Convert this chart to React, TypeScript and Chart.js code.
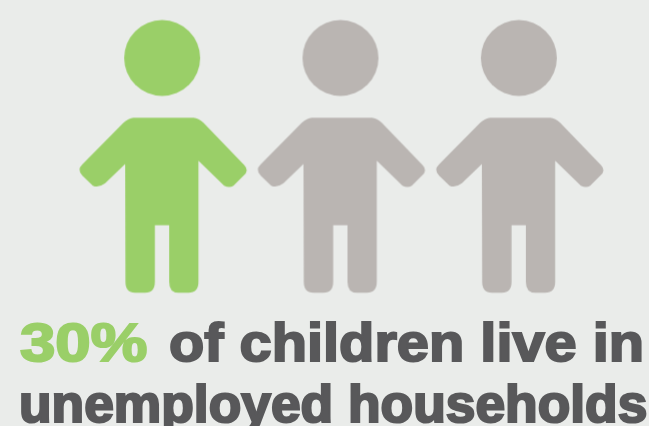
import { useEffect, useRef } from "react";
import { Chart, registerables } from "chart.js";

Chart.register(...registerables);

const children = ["Child 1", "Child 2", "Child 3"];
const unemployedHousehold = [1, null, null];
const otherHousehold = [null, 1, 1];

const GREEN = "#9ACF68";
const GREY = "#BAB5B2";
const INK = "#58585A";
const PAPER = "#EAECEA";

// Child silhouette, outlined in a 180x280 box with the figure centred.
const BODY =
  "M61.3 101.2 L121.3 101.2 Q126.5 101.6 131.3 106.2 L172 148.5 " +
  "Q177.5 154.2 171.3 159.2 L161.3 169.2 Q157.3 171.8 152 169.2 L126.3 144.2 " +
  "L126.3 265.2 Q126.3 276.2 116.3 276.2 L106.3 276.2 Q97 276.2 97 265.2 L97 208.8 " +
  "L82.7 208.8 L82.7 265.2 Q82.7 276.2 73 276.2 L63 276.2 Q53.3 276.2 53.3 265.2 " +
  "L53 147.5 L33 166.8 Q26.3 171.8 20.7 169.2 L10.3 159.2 Q4.3 153.5 10.3 147.8 " +
  "L51.3 106.2 Q56.5 101.6 61.3 101.2 Z";

function childIcon(color: string): HTMLCanvasElement {
  const icon = document.createElement("canvas");
  icon.width = 180;
  icon.height = 280;
  const ctx = icon.getContext("2d")!;
  ctx.fillStyle = color;
  ctx.beginPath();
  ctx.arc(90, 41.5, 38, 0, Math.PI * 2);
  ctx.fill();
  ctx.fill(new Path2D(BODY));
  return icon;
}

// One run of the caption: heavy, widened type set on its own baseline.
function Caption(props: {
  text: string;
  left: number;
  top: number;
  size: number;
  stretch: number;
  color: string;
  stroke: number;
}) {
  return (
    <div
      style={{
        position: "absolute",
        left: props.left,
        top: props.top,
        whiteSpace: "nowrap",
        fontFamily: "'Liberation Sans', sans-serif",
        fontWeight: 700,
        fontSize: props.size,
        lineHeight: "60px",
        color: props.color,
        WebkitTextStroke: `${props.stroke}px ${props.color}`,
        transform: `scaleX(${props.stretch})`,
        transformOrigin: "left center",
      }}
    >
      {props.text}
    </div>
  );
}

export default function App() {
  const canvasRef = useRef<HTMLCanvasElement>(null);

  useEffect(() => {
    document.body.style.margin = "0";
    const chart = new Chart(canvasRef.current!, {
      type: "line",
      data: {
        labels: children,
        datasets: [
          {
            label: "Unemployed households",
            data: unemployedHousehold,
            showLine: false,
            pointStyle: childIcon(GREEN),
          },
          {
            label: "Other households",
            data: otherHousehold,
            showLine: false,
            pointStyle: childIcon(GREY),
          },
        ],
      },
      options: {
        animation: false,
        responsive: false,
        layout: { padding: { left: 73, right: 41, top: 17, bottom: 130 } },
        plugins: { legend: { display: false }, tooltip: { enabled: false } },
        scales: {
          x: { display: false, offset: true },
          y: { display: false, min: 0, max: 2 },
        },
      },
    });
    return () => chart.destroy();
  }, []);

  return (
    <div style={{ position: "relative", width: 649, height: 426, overflow: "hidden", background: PAPER }}>
      <canvas ref={canvasRef} width={649} height={426} style={{ display: "block" }} />
      <Caption text="30%" left={19.5} top={313} size={53} stretch={1.2} color={GREEN} stroke={2} />
      <Caption text="of children live in" left={168.5} top={313} size={53} stretch={1.09} color={INK} stroke={2} />
      <Caption text="unemployed households" left={18.5} top={375} size={51} stretch={1.046} color={INK} stroke={2.2} />
    </div>
  );
}
